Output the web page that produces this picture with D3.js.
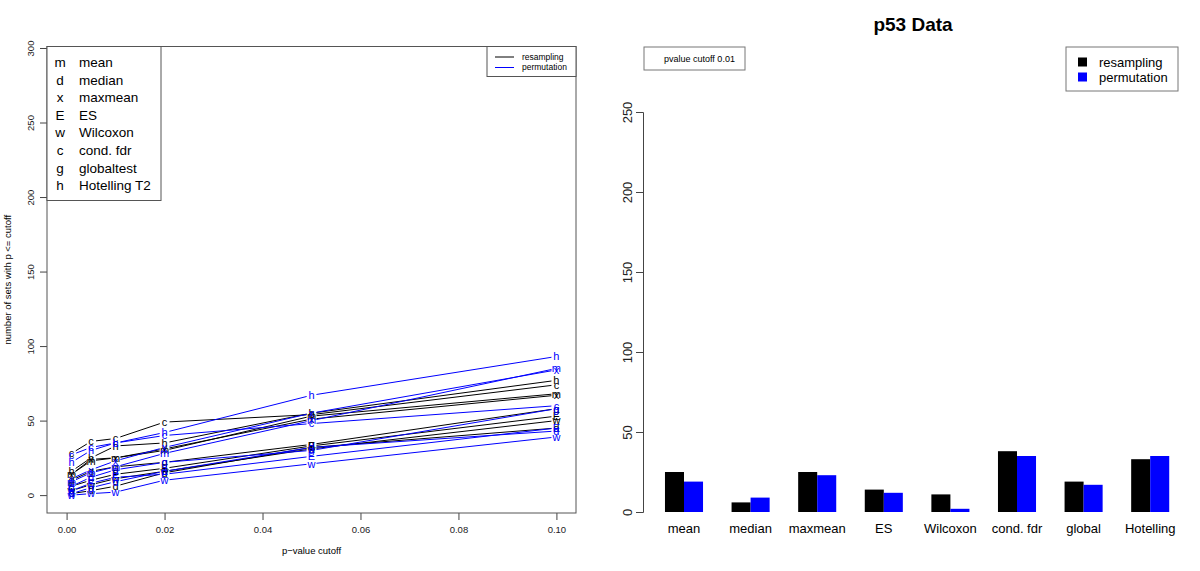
<!DOCTYPE html>
<html>
<head>
<meta charset="utf-8">
<script src="https://cdn.jsdelivr.net/npm/d3@7"></script>
<style>
  body { margin: 0; background: #fff; }
  svg { font-family: "Liberation Sans", Arial, sans-serif; }
</style>
</head>
<body>
<div id="chart"></div>
<script>
// p-value cutoffs on the x axis of the left panel
const cutoffs = [0.001, 0.005, 0.01, 0.02, 0.05, 0.1];
const methods = ["mean", "median", "maxmean", "ES", "Wilcoxon", "cond. fdr", "globaltest", "Hotelling T2"];
const symbols = ["m", "d", "x", "E", "w", "c", "g", "h"];

// number of sets with p <= cutoff, one row per method
const resampling = [
  [14, 23, 25, 30, 53, 68],
  [1, 3, 6, 15, 32, 45],
  [14, 24, 25, 31, 51, 67],
  [6, 10, 14, 18, 33, 53],
  [3, 7, 11, 16, 31, 50],
  [28, 36, 38, 49, 54, 74],
  [10, 16, 19, 22, 34, 58],
  [16, 25, 33, 35, 55, 77]
];
const permutation = [
  [9, 15, 19, 28, 50, 85],
  [1, 5, 9, 16, 32, 43],
  [11, 17, 23, 32, 55, 84],
  [3, 8, 12, 14, 26, 45],
  [0, 1, 2, 10, 21, 39],
  [27, 32, 35, 40, 48, 60],
  [6, 12, 17, 22, 30, 58],
  [22, 30, 35, 42, 67, 93]
];

// right panel: cutoff 0.01
const barLabels = ["mean", "median", "maxmean", "ES", "Wilcoxon", "cond. fdr", "global", "Hotelling"];
const barResampling = [25, 6, 25, 14, 11, 38, 19, 33];
const barPermutation = [19, 9, 23, 12, 2, 35, 17, 35];

const xTicks = [0, 0.02, 0.04, 0.06, 0.08, 0.10];
const yTicksLeft = [0, 50, 100, 150, 200, 250, 300];
const yTicksRight = [0, 50, 100, 150, 200, 250];

const svg = d3.select("#chart").append("svg")
  .attr("width", 1200)
  .attr("height", 571);

// ---------- left panel ----------
const left = { x0: 47, x1: 576, y0: 46.5, y1: 513 };
const x = d3.scaleLinear().domain([-0.004, 0.104]).range([left.x0, left.x1]);
const y = d3.scaleLinear().domain([-12, 301]).range([left.y1, left.y0]);

const gL = svg.append("g");

// axes
const xAxis = gL.append("g")
  .attr("transform", `translate(0,${left.y1})`)
  .call(d3.axisBottom(x).tickValues(xTicks).tickSize(7).tickFormat(d3.format(".2f")));
xAxis.select(".domain").remove();
xAxis.selectAll("line").attr("stroke", "#444");
xAxis.selectAll("text").attr("y", 13).style("font-size", "9.5px").attr("fill", "#222");

const yAxis = gL.append("g")
  .attr("transform", `translate(${left.x0},0)`)
  .call(d3.axisLeft(y).tickValues(yTicksLeft).tickSize(7));
yAxis.select(".domain").remove();
yAxis.selectAll("line").attr("stroke", "#444");
yAxis.selectAll("text")
  .attr("x", 0).attr("y", -13).attr("dy", 0)
  .attr("transform", "rotate(-90)")
  .style("text-anchor", "middle")
  .style("font-size", "9.5px").attr("fill", "#222");

gL.append("text")
  .attr("x", (left.x0 + left.x1) / 2).attr("y", 554)
  .attr("text-anchor", "middle").style("font-size", "9.5px")
  .text("p\u2212value cutoff");
gL.append("text")
  .attr("transform", `translate(11,${(left.y0 + left.y1) / 2}) rotate(-90)`)
  .attr("text-anchor", "middle").style("font-size", "9.5px")
  .text("number of sets with p <= cutoff");

// lines with letter symbols (type = "b" look: gaps round the letters)
function drawSeries(rows, color) {
  rows.forEach(function (vals, i) {
    const pts = vals.map((v, j) => [x(cutoffs[j]), y(v)]);
    const gap = 5;
    for (let j = 0; j < pts.length - 1; j++) {
      const [ax, ay] = pts[j], [bx, by] = pts[j + 1];
      const len = Math.hypot(bx - ax, by - ay);
      if (len <= 2 * gap) continue;
      const ux = (bx - ax) / len, uy = (by - ay) / len;
      gL.append("line")
        .attr("x1", ax + ux * gap).attr("y1", ay + uy * gap)
        .attr("x2", bx - ux * gap).attr("y2", by - uy * gap)
        .attr("stroke", color).attr("stroke-width", 1);
    }
    gL.selectAll(null)
      .data(pts).join("text")
      .attr("x", d => d[0]).attr("y", d => d[1])
      .attr("dy", "0.35em")
      .attr("text-anchor", "middle")
      .style("font-size", "11px")
      .attr("fill", color)
      .text(symbols[i]);
  });
}
drawSeries(resampling, "#000000");
drawSeries(permutation, "#0000ff");

// plot box
gL.append("rect")
  .attr("x", left.x0).attr("y", left.y0)
  .attr("width", left.x1 - left.x0).attr("height", left.y1 - left.y0)
  .attr("fill", "none").attr("stroke", "#555");

// symbol legend (top left)
const lg = gL.append("g");
lg.append("rect")
  .attr("x", left.x0).attr("y", left.y0)
  .attr("width", 114).attr("height", 154)
  .attr("fill", "#fff").attr("stroke", "#555");
methods.forEach(function (m, i) {
  const yy = 67 + i * 17.6;
  lg.append("text").attr("x", 60).attr("y", yy).attr("text-anchor", "middle")
    .style("font-size", "13.5px").text(symbols[i]);
  lg.append("text").attr("x", 79).attr("y", yy)
    .style("font-size", "13.5px").text(m);
});

// line legend (top right)
const ll = gL.append("g");
ll.append("rect")
  .attr("x", 487).attr("y", left.y0)
  .attr("width", left.x1 - 487).attr("height", 30)
  .attr("fill", "#fff").attr("stroke", "#555");
[["resampling", "#000000"], ["permutation", "#0000ff"]].forEach(function (d, i) {
  const yy = 57 + i * 10.5;
  ll.append("line").attr("x1", 495).attr("x2", 514).attr("y1", yy).attr("y2", yy)
    .attr("stroke", d[1]);
  ll.append("text").attr("x", 522).attr("y", yy).attr("dy", "0.35em")
    .style("font-size", "8.5px").text(d[0]);
});

// ---------- right panel ----------
const yb = d3.scaleLinear().domain([0, 250]).range([512, 112]);
// groups of two bars, gap of 1.5 bar widths between groups
const xb = d3.scaleBand().domain(barLabels)
  .range([650.7, 1183.5]).paddingInner(1.5 / 3.5).paddingOuter(0.75 / 3.5);
const xs = d3.scaleBand().domain(["resampling", "permutation"]).range([0, xb.bandwidth()]);

const gR = svg.append("g");

gR.append("text")
  .attr("x", 913).attr("y", 31)
  .attr("text-anchor", "middle")
  .style("font-size", "19px").style("font-weight", "bold")
  .text("p53 Data");

const yAxisR = gR.append("g")
  .attr("transform", "translate(643,0)")
  .call(d3.axisLeft(yb).tickValues(yTicksRight).tickSize(7));
yAxisR.select(".domain").attr("stroke", "#444");
yAxisR.selectAll("line").attr("stroke", "#444");
yAxisR.selectAll("text")
  .attr("x", 0).attr("y", -11).attr("dy", 0)
  .attr("transform", "rotate(-90)")
  .style("text-anchor", "middle")
  .style("font-size", "13px").attr("fill", "#222");

const groups = gR.selectAll("g.grp")
  .data(barLabels.map((l, i) => ({ label: l, vals: [["resampling", barResampling[i]], ["permutation", barPermutation[i]]] })))
  .join("g").attr("class", "grp")
  .attr("transform", d => `translate(${xb(d.label)},0)`);

groups.selectAll("rect")
  .data(d => d.vals).join("rect")
  .attr("x", d => xs(d[0]))
  .attr("width", xs.bandwidth())
  .attr("y", d => yb(d[1]))
  .attr("height", d => yb(0) - yb(d[1]))
  .attr("fill", d => d[0] === "resampling" ? "#000000" : "#0000ff");

groups.append("text")
  .attr("x", xb.bandwidth() / 2).attr("y", 533)
  .attr("text-anchor", "middle")
  .style("font-size", "13px")
  .text(d => d.label);

// cutoff note
gR.append("rect")
  .attr("x", 644).attr("y", 47).attr("width", 101).attr("height", 23)
  .attr("fill", "none").attr("stroke", "#777");
gR.append("text")
  .attr("x", 664).attr("y", 58.5).attr("dy", "0.35em")
  .style("font-size", "9px").text("pvalue cutoff 0.01");

// fill legend
const rl = gR.append("g");
rl.append("rect")
  .attr("x", 1066).attr("y", 47).attr("width", 112).attr("height", 44)
  .attr("fill", "none").attr("stroke", "#777");
[["resampling", "#000000"], ["permutation", "#0000ff"]].forEach(function (d, i) {
  const yy = 62 + i * 15;
  rl.append("rect").attr("x", 1078).attr("y", yy - 4.5).attr("width", 9).attr("height", 9)
    .attr("fill", d[1]);
  rl.append("text").attr("x", 1099).attr("y", yy).attr("dy", "0.35em")
    .style("font-size", "13px").text(d[0]);
});
</script>
</body>
</html>
